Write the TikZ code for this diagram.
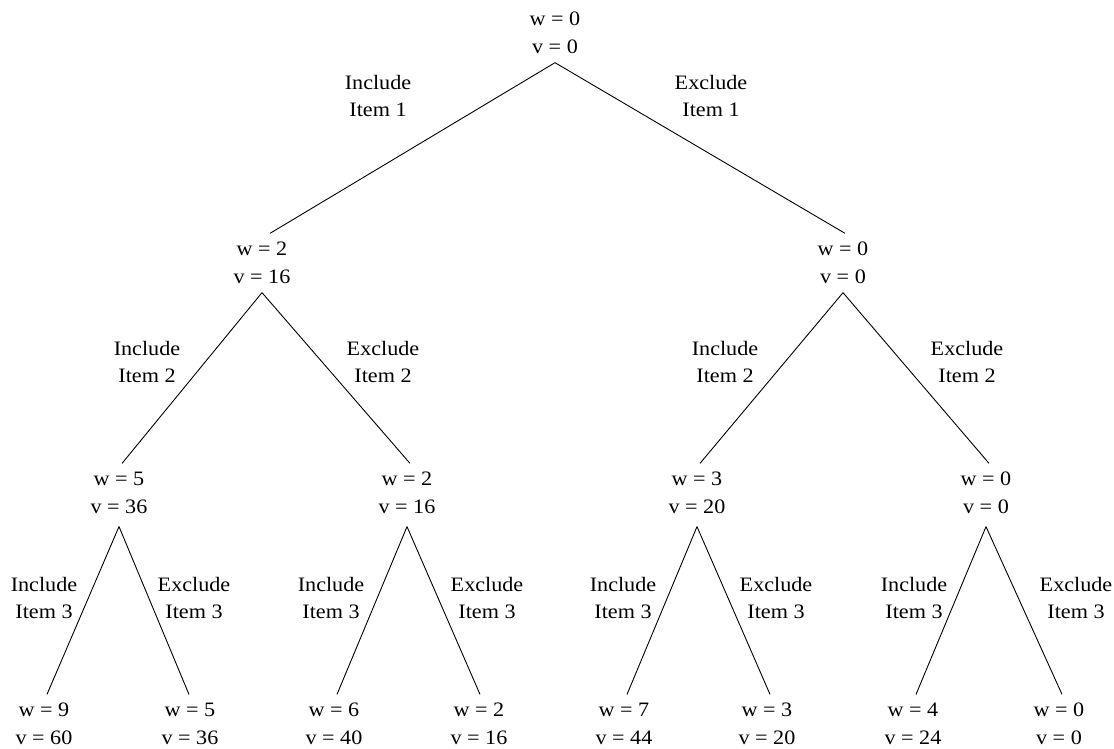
\documentclass[tikz,border=0pt]{standalone}
\usepackage{fontspec}
\setmainfont{Liberation Serif}[FakeStretch=1.08]
\begin{document}
\begin{tikzpicture}[x=1pt,y=-1pt,
  every node/.style={inner sep=0pt, align=center, font=\fontsize{20.5}{27.5}\selectfont},
  state/.style={outer ysep=9pt},
  choice/.style={},
  edge/.style={line width=0.9pt, black}]
\fill[white] (0,0) rectangle (1114,749);
\useasboundingbox (0,0) rectangle (1114,749);

% knapsack states: weight and value so far
\node[state] (r)   at (555,33)  {w = 0\\v = 0};
\node[state] (a)   at (262,263) {w = 2\\v = 16};
\node[state] (b)   at (843,263) {w = 0\\v = 0};
\node[state] (aa)  at (119,493) {w = 5\\v = 36};
\node[state] (ab)  at (407,493) {w = 2\\v = 16};
\node[state] (ba)  at (697,493) {w = 3\\v = 20};
\node[state] (bb)  at (986,493) {w = 0\\v = 0};
\node[state] (aaa) at (44,724)   {w = 9\\v = 60};
\node[state] (aab) at (190,724)  {w = 5\\v = 36};
\node[state] (aba) at (334,724)  {w = 6\\v = 40};
\node[state] (abb) at (479,724)  {w = 2\\v = 16};
\node[state] (baa) at (624,724)  {w = 7\\v = 44};
\node[state] (bab) at (767,724)  {w = 3\\v = 20};
\node[state] (bba) at (913,724)  {w = 4\\v = 24};
\node[state] (bbb) at (1059,724) {w = 0\\v = 0};

% branch labels
\node[choice] (c1i)  at (378,96)  {Include\\Item 1};
\node[choice] (c1e)  at (711,96)  {Exclude\\Item 1};
\node[choice] (c2ai) at (147,362) {Include\\Item 2};
\node[choice] (c2ae) at (383,362) {Exclude\\Item 2};
\node[choice] (c2bi) at (725,362) {Include\\Item 2};
\node[choice] (c2be) at (967,362) {Exclude\\Item 2};
\node[choice] (c3ai) at (44,598)  {Include\\Item 3};
\node[choice] (c3ae) at (194,598) {Exclude\\Item 3};
\node[choice] (c3bi) at (331,598) {Include\\Item 3};
\node[choice] (c3be) at (487,598) {Exclude\\Item 3};
\node[choice] (c3ci) at (623,598) {Include\\Item 3};
\node[choice] (c3ce) at (776,598) {Exclude\\Item 3};
\node[choice] (c3di) at (914,598) {Include\\Item 3};
\node[choice] (c3de) at (1076,598) {Exclude\\Item 3};

% branches
\draw[edge] (r.south) -- ([xshift=8pt]a.north);
\draw[edge] (r.south) -- ([xshift=2pt]b.north);
\draw[edge] (a.south) -- ([xshift=3pt]aa.north);
\draw[edge] (a.south) -- ([xshift=3pt]ab.north);
\draw[edge] (b.south) -- ([xshift=3pt]ba.north);
\draw[edge] (b.south) -- ([xshift=3pt]bb.north);
\draw[edge] ([yshift=-4pt]aa.south) -- ([xshift=3pt]aaa.north);
\draw[edge] ([yshift=-4pt]aa.south) -- ([xshift=-1pt]aab.north);
\draw[edge] ([yshift=-4pt]ab.south) -- ([xshift=3pt]aba.north);
\draw[edge] ([yshift=-4pt]ab.south) -- ([xshift=1pt]abb.north);
\draw[edge] ([yshift=-4pt]ba.south) -- ([xshift=3pt]baa.north);
\draw[edge] ([yshift=-4pt]ba.south) -- ([xshift=3pt]bab.north);
\draw[edge] ([yshift=-4pt]bb.south) -- ([xshift=3pt]bba.north);
\draw[edge] ([yshift=-4pt]bb.south) -- ([xshift=3pt]bbb.north);
\end{tikzpicture}
\end{document}
